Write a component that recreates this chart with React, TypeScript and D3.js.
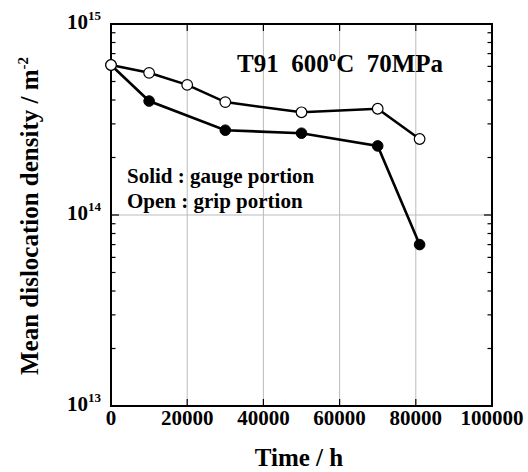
import React from "react";
import * as d3 from "d3";

const openTime = [0, 10000, 20000, 30000, 50000, 70000, 81000];
const openDensity = [6.1e14, 5.55e14, 4.8e14, 3.9e14, 3.45e14, 3.6e14, 2.5e14];
const solidTime = [0, 10000, 30000, 50000, 70000, 81000];
const solidDensity = [6.1e14, 3.95e14, 2.78e14, 2.68e14, 2.3e14, 7.0e13];
const xTicks = [0, 20000, 40000, 60000, 80000, 100000];
const yMajor = [1e13, 1e14, 1e15];
const yExponents = ["13", "14", "15"];

const W = 528;
const H = 472;
const M = { left: 111, right: 492, top: 24, bottom: 406 };
const FONT = "'Liberation Serif', 'Times New Roman', Times, serif";

export default function App() {
  const x = d3.scaleLinear().domain([0, 100000]).range([M.left, M.right]);
  const y = d3.scaleLog().domain([1e13, 1e15]).range([M.bottom, M.top]);
  const yMinor: number[] = [];
  for (const dec of [1e13, 1e14]) for (let k = 2; k <= 9; k++) yMinor.push(dec * k);

  const line = d3
    .line<[number, number]>()
    .x((d) => x(d[0]))
    .y((d) => y(d[1]));
  const openPts: [number, number][] = openTime.map((t, i) => [t, openDensity[i]]);
  const solidPts: [number, number][] = solidTime.map((t, i) => [t, solidDensity[i]]);

  return (
    <svg
      width={W}
      height={H}
      style={{ position: "absolute", left: 0, top: 0, background: "#fff" }}
      fontFamily={FONT}
      fontWeight="bold"
    >
      <rect x={0} y={0} width={W} height={H} fill="#fff" />
      {/* grid */}
      {xTicks.slice(1, -1).map((t) => (
        <line key={"gx" + t} x1={x(t)} x2={x(t)} y1={M.top} y2={M.bottom} stroke="#bbb" strokeWidth={1} />
      ))}
      <line x1={M.left} x2={M.right} y1={y(1e14)} y2={y(1e14)} stroke="#bbb" strokeWidth={1} />

      {/* x ticks */}
      {xTicks.slice(1, -1).map((t) => (
        <g key={"tx" + t}>
          <line x1={x(t)} x2={x(t)} y1={M.bottom} y2={M.bottom - 7} stroke="#000" strokeWidth={1.2} />
          <line x1={x(t)} x2={x(t)} y1={M.top} y2={M.top + 7} stroke="#000" strokeWidth={1.2} />
        </g>
      ))}
      {/* y ticks */}
      {yMajor.slice(1, -1).map((v) => (
        <g key={"ty" + v}>
          <line x1={M.left} x2={M.left + 8} y1={y(v)} y2={y(v)} stroke="#000" strokeWidth={1.2} />
          <line x1={M.right} x2={M.right - 8} y1={y(v)} y2={y(v)} stroke="#000" strokeWidth={1.2} />
        </g>
      ))}
      {yMinor.map((v) => (
        <g key={"tm" + v}>
          <line x1={M.left} x2={M.left + 4.5} y1={y(v)} y2={y(v)} stroke="#000" strokeWidth={1.2} />
          <line x1={M.right} x2={M.right - 4.5} y1={y(v)} y2={y(v)} stroke="#000" strokeWidth={1.2} />
        </g>
      ))}

      {/* frame */}
      <rect
        x={M.left}
        y={M.top}
        width={M.right - M.left}
        height={M.bottom - M.top}
        fill="none"
        stroke="#000"
        strokeWidth={2}
      />

      {/* x tick labels */}
      {xTicks.map((t) => (
        <text key={"lx" + t} x={x(t)} y={425} textAnchor="middle" fontSize={21}>
          {t}
        </text>
      ))}
      {/* y tick labels */}
      {yMajor.map((v, i) => (
        <text key={"ly" + v} x={101} y={y(v) + 5} textAnchor="end" fontSize={21}>
          10
          <tspan fontSize={13} dy={-9}>
            {yExponents[i]}
          </tspan>
        </text>
      ))}

      {/* axis titles */}
      <text x={299} y={466} textAnchor="middle" fontSize={25}>
        Time / h
      </text>
      <text transform={`translate(38,216) rotate(-90)`} textAnchor="middle" fontSize={25}>
        Mean dislocation density / m
        <tspan fontSize={15} dy={-10}>
          -2
        </tspan>
      </text>

      {/* annotations */}
      <text x={237} y={72} fontSize={25} xmlSpace="preserve" style={{ whiteSpace: "pre" }}>
        {"T91  600"}
        <tspan fontSize={15} dy={-11}>
          o
        </tspan>
        <tspan dy={11}>{"C  70MPa"}</tspan>
      </text>
      <text x={127} y={183} fontSize={21}>
        Solid : gauge portion
      </text>
      <text x={127} y={208} fontSize={21}>
        Open : grip portion
      </text>

      {/* series */}
      <path d={line(solidPts) || ""} fill="none" stroke="#000" strokeWidth={2.6} />
      <path d={line(openPts) || ""} fill="none" stroke="#000" strokeWidth={2.6} />
      {solidPts.map((p, i) => (
        <circle key={"s" + i} cx={x(p[0])} cy={y(p[1])} r={5.3} fill="#000" stroke="#000" strokeWidth={1} />
      ))}
      {openPts.map((p, i) => (
        <circle key={"o" + i} cx={x(p[0])} cy={y(p[1])} r={5.3} fill="#fff" stroke="#000" strokeWidth={1.2} />
      ))}
    </svg>
  );
}
